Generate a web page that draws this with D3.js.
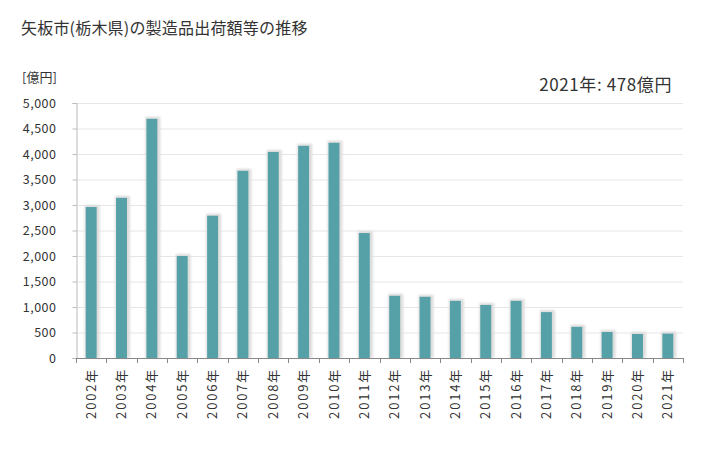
<!DOCTYPE html>
<html><head><meta charset="utf-8">
<script src="https://cdn.jsdelivr.net/npm/d3@7"></script>
<style>body{margin:0;background:#fff;font-family:"Noto Sans CJK JP","Noto Sans",sans-serif;}</style>
</head><body><svg id="c" width="728" height="450"></svg>
<script>
const years = ["2002年","2003年","2004年","2005年","2006年","2007年","2008年","2009年","2010年","2011年","2012年","2013年","2014年","2015年","2016年","2017年","2018年","2019年","2020年","2021年"];
const values = [2960,3140,4690,2000,2790,3670,4040,4160,4220,2450,1220,1200,1120,1040,1120,900,610,510,470,478];
const yTicks = [0,500,1000,1500,2000,2500,3000,3500,4000,4500,5000];

(function(){
const svg = d3.select("#c");
const pL = 76, pR = 683, pT = 103, pB = 358;
const x = d3.scaleBand().domain(years).range([pL, pR]).paddingInner(0.64).paddingOuter(0.32);
const y = d3.scaleLinear().domain([0,5000]).range([pB, pT]);
const font = '"Noto Sans CJK JP","Noto Sans",sans-serif';

svg.append("text").attr("x",21).attr("y",34).attr("font-size",16).attr("fill","#333").attr("font-family",font).attr("letter-spacing",0.2).text("矢板市(栃木県)の製造品出荷額等の推移");
svg.append("text").attr("x",22).attr("y",82).attr("font-size",13).attr("fill","#333").attr("font-family",font).text("[億円]");
svg.append("text").attr("x",672).attr("y",91).attr("text-anchor","end").attr("font-size",17).attr("fill","#333").attr("font-family",font).attr("letter-spacing",0.6).text("2021年: 478億円");

svg.append("g").selectAll("line").data(yTicks.filter(d=>d>0)).join("line")
  .attr("x1",pL).attr("x2",pR).attr("y1",d=>y(d)+0.5).attr("y2",d=>y(d)+0.5)
  .attr("stroke","#e6e6e6").attr("stroke-width",1);

const ya = svg.append("g").attr("transform",`translate(${pL+0.5},0)`)
  .call(d3.axisLeft(y).tickValues(yTicks).tickSize(4).tickFormat(d3.format(",")));
ya.select(".domain").attr("stroke","#bbb");
ya.selectAll(".tick line").attr("stroke","#bbb");
ya.selectAll(".tick text").attr("font-size",12.5).attr("fill","#333").attr("font-family",font).attr("x",-20).attr("letter-spacing",0.5);

const defs = svg.append("defs");
const f = defs.append("filter").attr("id","blur").attr("x","-50%").attr("y","-10%").attr("width","200%").attr("height","120%");
f.append("feGaussianBlur").attr("stdDeviation",1);
svg.append("g").selectAll("rect").data(values).join("rect")
  .attr("x",(d,i)=>x(years[i])-1).attr("y",d=>y(d)-2)
  .attr("width",x.bandwidth()+4).attr("height",d=>pB-y(d)+2)
  .attr("fill","#dcdcdc").attr("filter","url(#blur)");
svg.append("g").selectAll("rect").data(values).join("rect")
  .attr("x",(d,i)=>x(years[i])).attr("y",d=>y(d))
  .attr("width",x.bandwidth()).attr("height",d=>pB-y(d))
  .attr("fill","#56a1a7");

const xg = svg.append("g");
xg.append("line").attr("x1",pL).attr("x2",pR).attr("y1",pB+0.5).attr("y2",pB+0.5).attr("stroke","#888");
const edges = d3.range(years.length+1).map(i=>pL + i*(pR-pL)/years.length);
xg.selectAll("line.t").data(edges).join("line").attr("class","t")
  .attr("x1",d=>Math.round(d)+0.5).attr("x2",d=>Math.round(d)+0.5).attr("y1",pB).attr("y2",pB+5).attr("stroke","#888");
xg.selectAll("text").data(years).join("text")
  .attr("transform",d=>`translate(${x(d)+x.bandwidth()/2},${pB+10}) rotate(-90)`)
  .attr("text-anchor","end").attr("dy","0.35em").attr("font-size",13).attr("fill","#333").attr("font-family",font)
  .attr("letter-spacing",1.8)
  .text(d=>d);
})();
</script></body></html>
